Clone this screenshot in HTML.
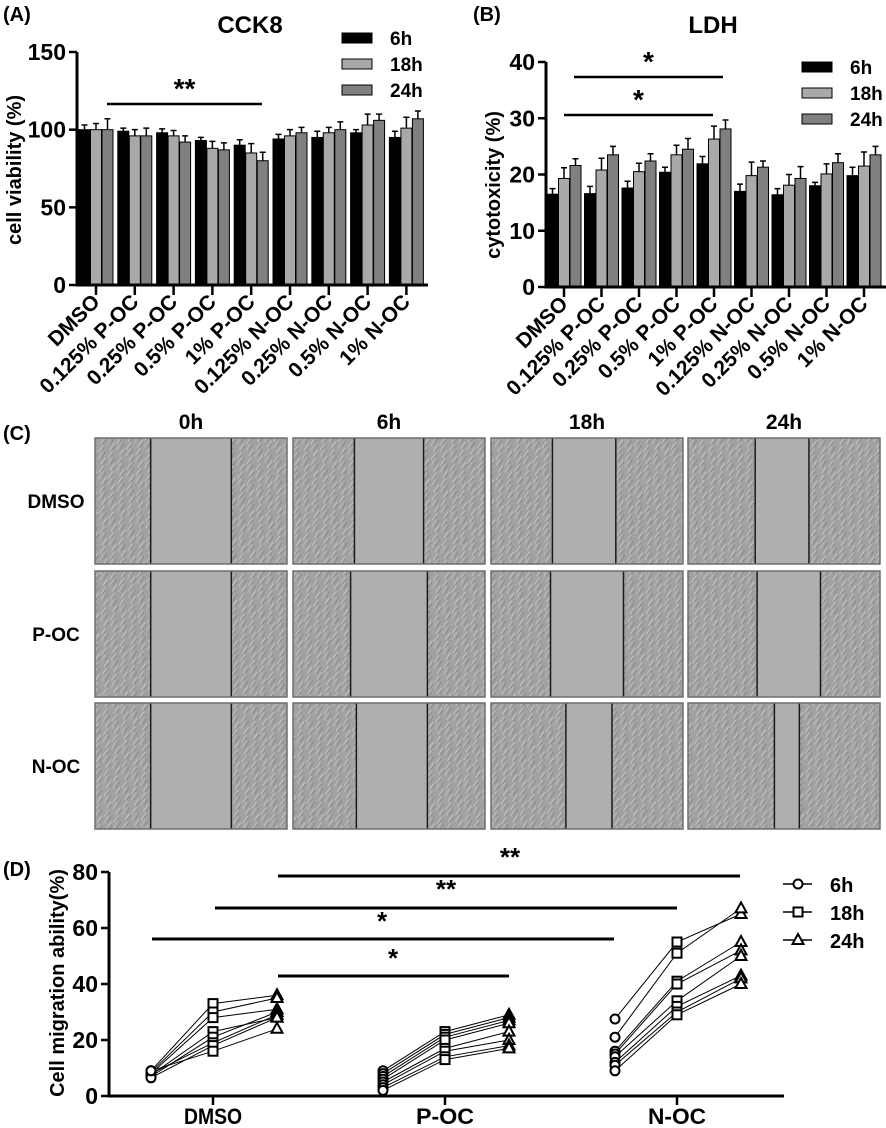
<!DOCTYPE html>
<html><head><meta charset="utf-8"><style>
html,body{margin:0;padding:0;background:#fff;}
svg{display:block;font-family:"Liberation Sans",Arial,sans-serif;font-weight:bold;}
</style></head><body>
<svg id="fig" width="886" height="1128" viewBox="0 0 886 1128" xmlns="http://www.w3.org/2000/svg">
<defs>
<pattern id="cells" width="17" height="11" patternUnits="userSpaceOnUse" patternTransform="rotate(-58)">
<rect width="17" height="11" fill="#a2a2a2"/>
<line x1="0" y1="1.5" x2="8" y2="2" stroke="#c6c6c6" stroke-width="1"/>
<line x1="9" y1="4" x2="17" y2="4.5" stroke="#c2c2c2" stroke-width="1"/>
<line x1="3" y1="7.5" x2="12" y2="7" stroke="#bdbdbd" stroke-width="1"/>
<line x1="1" y1="3.5" x2="7" y2="3.8" stroke="#838383" stroke-width="0.7"/>
<line x1="10" y1="6" x2="16" y2="6.3" stroke="#858585" stroke-width="0.7"/>
<line x1="5" y1="9.8" x2="13" y2="10" stroke="#828282" stroke-width="0.7"/>
</pattern>
</defs>
<g id="panelA"></g>
<g id="panelB"></g>
<g id="panelC"></g>
<g id="panelD"></g>
</svg>
<script>
// ---- Panel A / B data ----
const categories = ["DMSO","0.125% P-OC","0.25% P-OC","0.5% P-OC","1% P-OC","0.125% N-OC","0.25% N-OC","0.5% N-OC","1% N-OC"];
const seriesNames = ["6h","18h","24h"];
const cck6h = [100,99,98,93,90,94,95,98,95];
const cck18h = [100,96,96,88,85,96,98,103,101];
const cck24h = [100,96,92,87,80,98,100,106,107];
const cckErr6h = [3,2,2.5,2,3.5,3,4,2,4];
const cckErr18h = [4,4,3.5,4.5,6,4,3.5,7,7];
const cckErr24h = [7,5,4,4.5,5.5,3.5,5,4,5];
const cckTicks = [0,50,100,150];
const ldh6h = [16.5,16.6,17.6,20.4,21.9,17.0,16.4,18.0,19.8];
const ldh18h = [19.3,20.8,20.5,23.5,26.3,19.8,18.1,20.1,21.5];
const ldh24h = [21.6,23.5,22.4,24.5,28.1,21.3,19.3,22.1,23.5];
const ldhErr6h = [1.0,1.3,1.2,0.9,1.3,1.3,1.1,0.6,1.5];
const ldhErr18h = [1.9,2.1,1.5,1.7,2.3,2.4,1.9,1.8,2.5];
const ldhErr24h = [1.2,1.5,1.3,1.9,1.6,1.1,2.1,1.6,1.5];
const ldhTicks = [0,10,20,30,40];
// ---- Panel C data ----
const timeLabels = ["0h","6h","18h","24h"];
const groupLabels = ["DMSO","P-OC","N-OC"];
const gapLeft = [[0.29,0.32,0.32,0.35],[0.29,0.30,0.31,0.36],[0.29,0.33,0.39,0.45]];
const gapRight = [[0.71,0.68,0.65,0.63],[0.71,0.70,0.69,0.69],[0.71,0.70,0.63,0.58]];
// ---- Panel D data ----
const migGroups = ["DMSO","P-OC","N-OC"];
const mig6h = [[9,8.5,8,7.5,7,8,6.5,9],[9,8,7,6,5,4,3,2],[27.5,21,16,15,14,12,11,9]];
const mig18h = [[33,30,28,23,21,19,18,16],[23,22,21,20,17,16,14,13],[55,51,41,40,34,32,30,29]];
const mig24h = [[36,35,31,28,30,29,28,24],[29,28,27,26,23,20,18,17],[65,67,55,52,50,43,42,40]];
const migTicks = [0,20,40,60,80];

const NS="http://www.w3.org/2000/svg";
function mk(parent,tag,attrs,text){const e=document.createElementNS(NS,tag);for(const k in attrs)e.setAttribute(k,attrs[k]);if(text!==undefined)e.textContent=text;parent.appendChild(e);return e;}

function barPanel(g,o){
  const y=v=>o.y0-(v/o.max)*(o.y0-o.yTop);
  const x=i=>o.x0+o.first+i*o.step;
  const fills=["#000","#a9a9a9","#808080"];
  const vals=[o.s6,o.s18,o.s24], errs=[o.e6,o.e18,o.e24];
  const t1=mk(g,"text",{x:o.labX,y:21,"font-size":20});t1.textContent=o.lab;
  
  
  const t2=mk(g,"text",{x:o.titleX,y:33,"font-size":24,"text-anchor":"middle"});t2.textContent=o.title;
  
  
  categories.forEach((c,i)=>{
    vals.forEach((s,k)=>{
      const bx=x(i)+(k-1)*11.5-5.5;
      const r=mk(g,"rect",{x:bx,y:y(s[i]),width:11,height:o.y0-y(s[i]),fill:fills[k],stroke:"#000","stroke-width":1});
      
      
      const cx=bx+5.5, top=y(s[i]+errs[k][i]);
      const eb=mk(g,"path",{d:`M${cx} ${y(s[i])}V${top}M${cx-3} ${top}H${cx+3}`,stroke:"#000","stroke-width":1.5,fill:"none"});
      
      
    });
    mk(g,"line",{x1:x(i),x2:x(i),y1:o.y0,y2:o.y0+10,stroke:"#000","stroke-width":2.5});
    const lt=mk(g,"text",{x:x(i)+5,y:o.y0+18,"font-size":21,"text-anchor":"end",transform:`rotate(-45 ${x(i)+5} ${o.y0+18})`});
    lt.textContent=c;
    
    
  });
  mk(g,"line",{x1:o.x0,x2:o.x1,y1:o.y0,y2:o.y0,stroke:"#000","stroke-width":3});
  mk(g,"line",{x1:o.x0,x2:o.x0,y1:o.y0+1.5,y2:o.yTop,stroke:"#000","stroke-width":3});
  o.ticks.forEach(t=>{
    mk(g,"line",{x1:o.x0-8,x2:o.x0,y1:y(t),y2:y(t),stroke:"#000","stroke-width":2.5});
    const tt=mk(g,"text",{x:o.x0-11,y:y(t)+8,"font-size":23,"text-anchor":"end"});tt.textContent=t;
    
    
  });
  const yt=mk(g,"text",{x:0,y:0,"font-size":20,"text-anchor":"middle",transform:`translate(${o.ytX},${o.ytY}) rotate(-90)`});
  yt.textContent=o.ytitle;
  
  
  seriesNames.forEach((n,k)=>{
    const ly=o.legY+k*26;
    const lr=mk(g,"rect",{x:o.legX,y:ly-5,width:30,height:10,fill:fills[k],stroke:"#000","stroke-width":1});
    
    
    const lt=mk(g,"text",{x:o.legX+48,y:ly+7,"font-size":19});lt.textContent=n;
    
    
  });
  o.sig.forEach(s=>{
    mk(g,"line",{x1:s[0],x2:s[1],y1:s[2],y2:s[2],stroke:"#000","stroke-width":2.5});
    const st=mk(g,"text",{x:(s[0]+s[1])/2,y:s[2]-6,"font-size":28,"text-anchor":"middle"});st.textContent=s[3];
    
    
  });
}
barPanel(document.getElementById("panelA"),{x0:77,x1:428,first:19,step:38.8,y0:285,yTop:52,max:150,ticks:cckTicks,
  s6:cck6h,s18:cck18h,s24:cck24h,e6:cckErr6h,e18:cckErr18h,e24:cckErr24h,lab:"(A)",labX:3,title:"CCK8",titleX:250,
  ytitle:"cell viability (%)",ytX:21,ytY:170,legX:342,legY:38,sig:[[107,262,104,"**"]]});
barPanel(document.getElementById("panelB"),{x0:546,x1:886,first:18,step:37.5,y0:287,yTop:62,max:40,ticks:ldhTicks,
  s6:ldh6h,s18:ldh18h,s24:ldh24h,e6:ldhErr6h,e18:ldhErr18h,e24:ldhErr24h,lab:"(B)",labX:473,title:"LDH",titleX:713,
  ytitle:"cytotoxicity (%)",ytX:500,ytY:185,legX:802,legY:67,sig:[[574,723,77,"*"],[564,713,115,"*"]]});

// Panel C
(function(){
  const g=document.getElementById("panelC");
  const colX=[95,293,491,688], rowY=[438,571,703], w=192, h=126;
  const lc=mk(g,"text",{x:3,y:440,"font-size":20});lc.textContent="(C)";
  
  
  timeLabels.forEach((t,j)=>{
    const tx=mk(g,"text",{x:colX[j]+w/2,y:429,"font-size":21,"text-anchor":"middle"});tx.textContent=t;
    
    
  });
  groupLabels.forEach((gl,i)=>{
    const tx=mk(g,"text",{x:56,y:rowY[i]+h/2+7,"font-size":19,"text-anchor":"middle"});tx.textContent=gl;
    
    
    timeLabels.forEach((t,j)=>{
      const cg=mk(g,"g",{});
      
      
      const x0=colX[j],y0=rowY[i];
      mk(cg,"rect",{x:x0,y:y0,width:w,height:h,fill:"url(#cells)"});
      const a=x0+gapLeft[i][j]*w,b=x0+gapRight[i][j]*w;
      mk(cg,"rect",{x:a,y:y0,width:b-a,height:h,fill:"#afafaf"});
      mk(cg,"line",{x1:a,x2:a,y1:y0,y2:y0+h,stroke:"#1a1a1a","stroke-width":1.5});
      mk(cg,"line",{x1:b,x2:b,y1:y0,y2:y0+h,stroke:"#1a1a1a","stroke-width":1.5});
      mk(cg,"rect",{x:x0,y:y0,width:w,height:h,fill:"none",stroke:"#6e6e6e","stroke-width":1.5});
    });
  });
})();

// Panel D
(function(){
  const g=document.getElementById("panelD");
  const x0=109,x1=784,y0=1096,yTop=872,max=80;
  const y=v=>y0-(v/max)*(y0-yTop);
  const gx=i=>213+i*232;
  const off=[-62,0,64];
  const ld=mk(g,"text",{x:3,y:876,"font-size":20});ld.textContent="(D)";
  
  
  function marker(k,cx,cy,par){
    let e;
    if(k===0)e=mk(par,"circle",{cx:cx,cy:cy,r:4.5,fill:"#fff",stroke:"#000","stroke-width":2});
    else if(k===1)e=mk(par,"rect",{x:cx-4.5,y:cy-4.5,width:9,height:9,fill:"#fff",stroke:"#000","stroke-width":2});
    else e=mk(par,"path",{d:`M${cx} ${cy-6}L${cx+5.5} ${cy+4}L${cx-5.5} ${cy+4}Z`,fill:"#fff",stroke:"#000","stroke-width":2});
    return e;
  }
  migGroups.forEach((gn,i)=>{
    mig6h[i].forEach((v,n)=>{
      const pts=[mig6h[i][n],mig18h[i][n],mig24h[i][n]];
      const pl=mk(g,"polyline",{points:pts.map((p,k)=>`${gx(i)+off[k]},${y(p)}`).join(" "),fill:"none",stroke:"#000","stroke-width":1});
      
      
    });
    [mig6h,mig18h,mig24h].forEach((s,k)=>{
      s[i].forEach(v=>{
        const m=marker(k,gx(i)+off[k],y(v),g);
        
        
      });
    });
    mk(g,"line",{x1:gx(i),x2:gx(i),y1:y0,y2:y0+9,stroke:"#000","stroke-width":2.5});
    const tl=mk(g,"text",{x:gx(i),y:1124,"font-size":22,"text-anchor":"middle",textLength:gn.length*14.5,lengthAdjust:"spacingAndGlyphs"});
    tl.textContent=gn;
    
    
  });
  mk(g,"line",{x1:x0,x2:x1,y1:y0,y2:y0,stroke:"#000","stroke-width":3});
  mk(g,"line",{x1:x0,x2:x0,y1:y0+1.5,y2:yTop,stroke:"#000","stroke-width":3});
  migTicks.forEach(t=>{
    mk(g,"line",{x1:x0-8,x2:x0,y1:y(t),y2:y(t),stroke:"#000","stroke-width":2.5});
    const tt=mk(g,"text",{x:x0-11,y:y(t)+8,"font-size":23,"text-anchor":"end"});tt.textContent=t;
    
    
  });
  const yt=mk(g,"text",{x:0,y:0,"font-size":20,"text-anchor":"middle",transform:"translate(64,983) rotate(-90)"});
  yt.textContent="Cell migration ability(%)";
  
  
  const sig=[[278,740,876,"**",510,866],[215,677,908,"**",446,898],[152,614,939,"*",382,930],[278,509,976,"*",393,967]];
  sig.forEach(s=>{
    mk(g,"line",{x1:s[0],x2:s[1],y1:s[2],y2:s[2],stroke:"#000","stroke-width":3});
    const st=mk(g,"text",{x:s[4],y:s[5],"font-size":26,"text-anchor":"middle"});st.textContent=s[3];
    
    
  });
  seriesNames.forEach((n,k)=>{
    const ly=884+k*28;
    mk(g,"line",{x1:783,x2:812,y1:ly,y2:ly,stroke:"#000","stroke-width":1.5});
    const m=marker(k,798,ly,g);
    
    
    const lt=mk(g,"text",{x:830,y:ly+8,"font-size":20});lt.textContent=n;
    
    
  });
})();
</script>
</body></html>
